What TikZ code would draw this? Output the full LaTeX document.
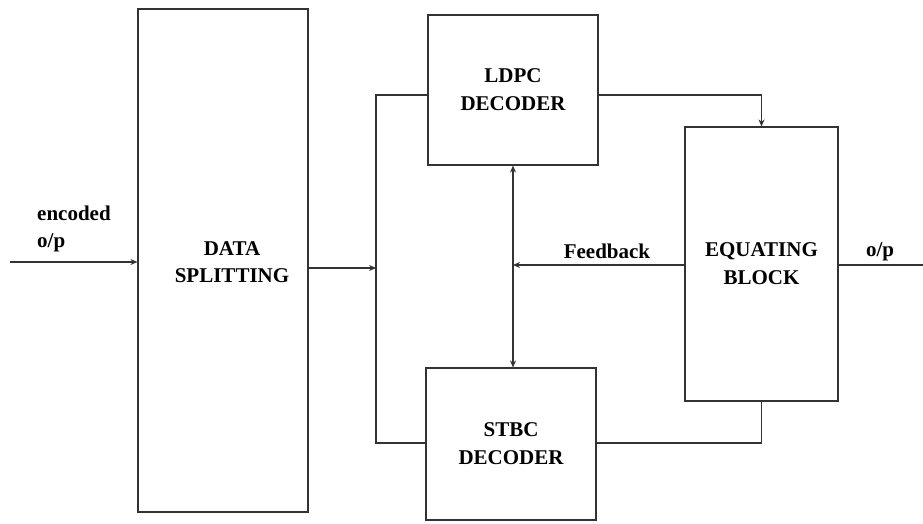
\documentclass[tikz,border=0pt]{standalone}
\usepackage{fontspec}
\setmainfont{Liberation Serif}
\usetikzlibrary{arrows.meta}
\tikzset{
  blk/.style={draw=black!80, line width=1.1pt, align=center, inner sep=0pt,
    font=\fontsize{21}{28}\selectfont\bfseries},
  wire/.style={draw=black!80, line width=1.1pt},
  tip/.style={-{Stealth[length=7pt,width=6pt]}},
  lbl/.style={font=\fontsize{21}{27}\selectfont\bfseries, inner sep=0pt}
}
\begin{document}
\begin{tikzpicture}[x=1pt, y=-1pt]
  \useasboundingbox (0,0) rectangle (923,524);
  % blocks
  \node[blk, minimum width=170, minimum height=503] (split) at (223,260.5) {};
  \node[lbl, align=center] (splitl) at (232,262) {DATA\\SPLITTING};
  \node[blk, minimum width=170, minimum height=150] (ldpc) at (513,90) {LDPC\\DECODER};
  \node[blk, minimum width=170, minimum height=152] (stbc) at (511,444) {STBC\\DECODER};
  \node[blk, minimum width=153, minimum height=274] (equ) at (761.5,264) {EQUATING\\BLOCK};
  % junction points
  \coordinate (in) at (10,262);
  \coordinate (join) at (376,268);
  \coordinate (bustop) at (376,95);
  \coordinate (busbot) at (376,443);
  \coordinate (fb) at (513,265);
  \coordinate (out) at (923,265);
  % input
  \draw[wire, tip] (in) -- (in -| split.west);
  \node[lbl, align=left, anchor=west] (enc) at (37,229) {encoded\\o/p};
  % splitter to bus
  \draw[wire, tip] (join -| split.east) -- (join);
  \draw[wire] (ldpc.west |- bustop) -- (bustop) -- (busbot) -- (stbc.west |- busbot);
  % decoders to equating block
  \draw[wire, tip] (ldpc.east |- bustop) -| (equ.north);
  \draw[wire] (stbc.east |- busbot) -| (equ.south);
  % feedback
  \draw[wire, tip] (equ.west |- fb) -- (fb);
  \node[lbl] (fbl) at (607,251) {Feedback};
  \draw[wire, {Stealth[length=7pt,width=6pt]}-{Stealth[length=7pt,width=6pt]}] (ldpc.south) -- (ldpc.south |- stbc.north);
  % output
  \draw[wire] (equ.east |- out) -- (out);
  \node[lbl] (opl) at (880,252) {o/p};
\end{tikzpicture}
\end{document}
